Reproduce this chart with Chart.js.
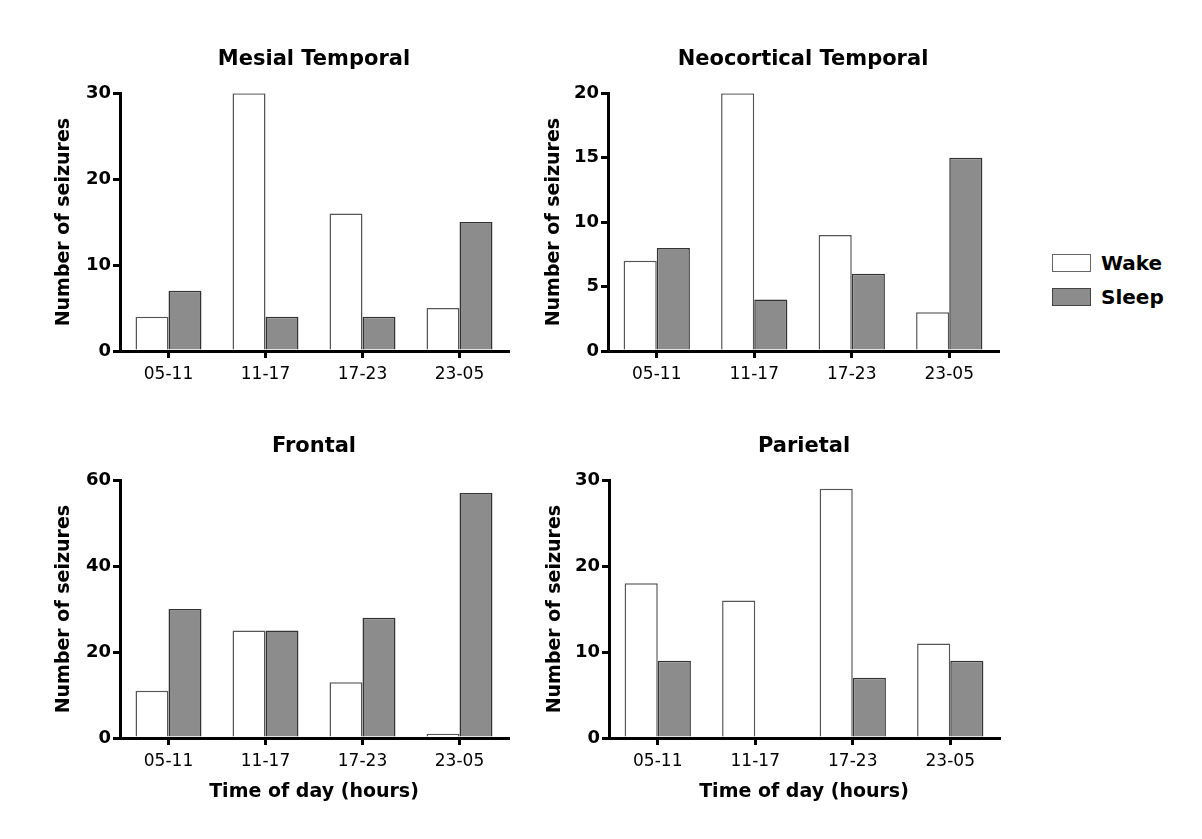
<!DOCTYPE html>
<html><head><meta charset="utf-8">
<script src="https://cdn.jsdelivr.net/npm/chart.js@4/dist/chart.umd.min.js"></script>
<style>
body{margin:0;background:#fff;width:1202px;height:839px;position:relative;overflow:hidden;font-family:"DejaVu Sans",sans-serif;}
canvas{position:absolute;}
#legend{position:absolute;left:1052px;top:246px;}
.li{display:flex;align-items:center;height:34px;}
.sw{width:37px;height:16px;border:1.5px solid #444;margin-right:10px;}
.lt{font-weight:bold;font-size:20px;color:#000;}
</style></head><body>
<canvas id="c1" width="510" height="400" style="left:20px;top:0px"></canvas>
<canvas id="c2" width="510" height="400" style="left:510px;top:0px"></canvas>
<canvas id="c3" width="510" height="430" style="left:20px;top:400px"></canvas>
<canvas id="c4" width="510" height="430" style="left:511px;top:400px"></canvas>
<div id="legend"></div>
<script>
const categories = ['05-11', '11-17', '17-23', '23-05'];
const seriesNames = ['Wake', 'Sleep'];
const panelTitles = ['Mesial Temporal', 'Neocortical Temporal', 'Frontal', 'Parietal'];
const mesialWake = [4, 30, 16, 5];
const mesialSleep = [7, 4, 4, 15];
const neoWake = [7, 20, 9, 3];
const neoSleep = [8, 4, 6, 15];
const frontalWake = [11, 25, 13, 1];
const frontalSleep = [30, 25, 28, 57];
const parietalWake = [18, 16, 29, 11];
const parietalSleep = [9, 0, 7, 9];
const yMaxes = [30, 20, 60, 30];
const ySteps = [10, 5, 20, 10];
const yTitle = 'Number of seizures';
const xTitle = 'Time of day (hours)';

const F = 'DejaVu Sans';
const fills = ['#ffffff', '#8c8c8c'];
const borders = ['#555555', '#333333'];

function makeChart(id, title, wake, sleep, yMax, yStep, bottomRow) {
  const ctx = document.getElementById(id);
  return new Chart(ctx, {
    type: 'bar',
    data: {
      labels: categories,
      datasets: [wake, sleep].map((d, i) => ({
        label: seriesNames[i],
        data: d,
        backgroundColor: fills[i],
        borderColor: borders[i],
        borderWidth: 1.5,
        categoryPercentage: 0.68,
        barPercentage: 1.0
      }))
    },
    options: {
      responsive: false,
      animation: false,
      devicePixelRatio: 1,
      layout: { padding: { left: 0, right: 22, top: 0, bottom: 0 } },
      plugins: {
        legend: { display: false },
        tooltip: { enabled: false },
        title: {
          display: true, text: title, fullSize: false, color: '#000',
          font: { family: F, size: 21, weight: 'bold' },
          padding: bottomRow ? { top: 34, bottom: 21 } : { top: 47, bottom: 21 }
        }
      },
      scales: {
        x: {
          type: 'category',
          offset: true,
          grid: { display: true, drawOnChartArea: false, drawTicks: true, tickLength: 7, lineWidth: 3, color: '#000', offset: false },
          border: { display: true, width: 3, color: '#000' },
          ticks: { color: '#000', font: { family: F, size: 17 }, padding: 6, maxRotation: 0, autoSkip: false },
          title: {
            display: bottomRow, text: xTitle, color: '#000',
            font: { family: F, size: 19, weight: 'bold' },
            padding: { top: 0, bottom: 27 }
          },
          afterFit: s => { s.height = bottomRow ? 92 : 49; }
        },
        y: {
          min: 0, max: yMax,
          ticks: { stepSize: yStep, color: '#000', font: { family: F, size: 18, weight: 'bold' }, padding: 2 },
          grid: { drawOnChartArea: false, drawTicks: true, tickLength: 7, lineWidth: 3, color: '#000' },
          border: { display: true, width: 3, color: '#000' },
          title: {
            display: true, text: yTitle, color: '#000',
            font: { family: F, size: 19, weight: 'bold' },
            padding: { top: 33, bottom: 0 }
          },
          afterFit: s => { s.width = (id === 'c2' || id === 'c4') ? 98 : 100; }
        }
      }
    }
  });
}

makeChart('c1', panelTitles[0], mesialWake, mesialSleep, yMaxes[0], ySteps[0], false);
makeChart('c2', panelTitles[1], neoWake, neoSleep, yMaxes[1], ySteps[1], false);
makeChart('c3', panelTitles[2], frontalWake, frontalSleep, yMaxes[2], ySteps[2], true);
makeChart('c4', panelTitles[3], parietalWake, parietalSleep, yMaxes[3], ySteps[3], true);

const legend = document.getElementById('legend');
seriesNames.forEach((n, i) => {
  const row = document.createElement('div'); row.className = 'li';
  const sw = document.createElement('div'); sw.className = 'sw';
  sw.style.background = fills[i];
  sw.style.borderColor = i === 0 ? '#666' : '#444';
  const t = document.createElement('span'); t.className = 'lt'; t.textContent = n;
  row.appendChild(sw); row.appendChild(t); legend.appendChild(row);
});
</script>
</body></html>
